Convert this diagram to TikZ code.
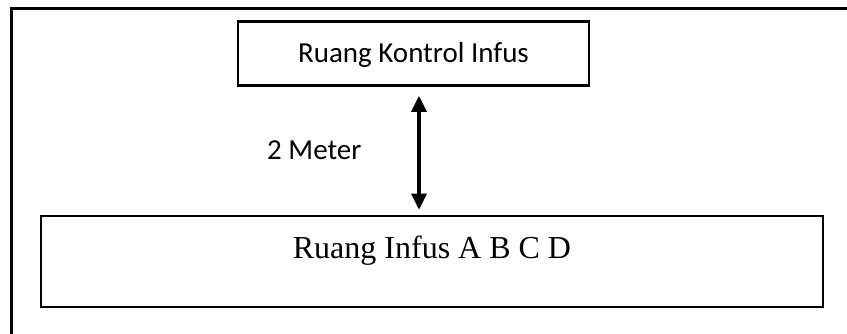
\documentclass[tikz,border=0pt]{standalone}
\usepackage{fontspec}
\setmainfont{Liberation Serif}
\newfontfamily\calibrifont{Carlito}
\usetikzlibrary{arrows.meta}
\tikzset{
  boxstyle/.style={draw=black, line width=2.6pt, inner sep=0pt, rectangle},
  arr/.style={line width=3.2pt, {Triangle[width=15pt,length=16pt]}-{Triangle[width=15pt,length=16pt]}},
}
\begin{document}
\begin{tikzpicture}[x=1pt,y=-1pt]
\useasboundingbox (0,0) rectangle (847,333);
\begin{scope}
\clip (0,0) rectangle (847,333);
\draw[line width=2.6pt] (11.5,8.5) rectangle (870,350);
\end{scope}
\node[boxstyle, minimum width=351pt, minimum height=64pt,
      text height=20pt, text depth=3pt, font=\calibrifont\fontsize{29}{34}\selectfont]
  (top) at (413.5,53.5) {Ruang Kontrol Infus};
\node[boxstyle, minimum width=782pt, minimum height=91pt,
      text height=22pt, text depth=29pt, font=\fontsize{32}{38}\selectfont]
  (bot) at (432,261.5) {Ruang Infus A B C D};
\coordinate (ax) at (419,0);
\draw[arr, shorten <=9pt, shorten >=5pt] (top.south -| ax) -- (bot.north -| ax);
\node[anchor=base west, inner sep=0pt, font=\calibrifont\fontsize{29}{34}\selectfont]
  (dist) at (267,159) {2 Meter};
\end{tikzpicture}
\end{document}
